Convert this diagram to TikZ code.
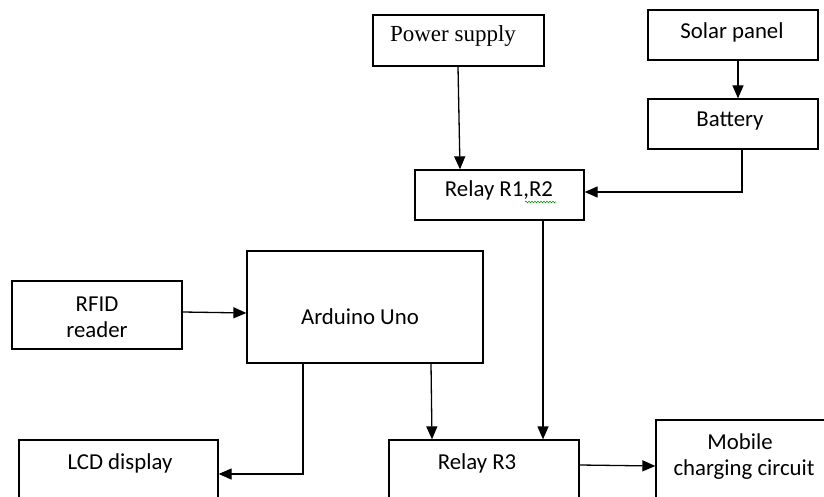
\documentclass[tikz,border=0pt]{standalone}
\usepackage{fontspec}
\setmainfont{Carlito}
\newfontfamily\serifface{Liberation Serif}
\usetikzlibrary{arrows.meta,decorations.pathmorphing}
\begin{document}
\begin{tikzpicture}[x=1pt,y=-1pt,
  box/.style={draw=black,line width=1.3pt,rectangle,inner sep=0pt},
  lbl/.style={inner sep=0pt,font=\fontsize{22.8}{26}\selectfont,align=center},
  arr/.style={line width=1.3pt,-{Triangle[length=13pt,width=11pt]}}]
\useasboundingbox (0,0) rectangle (824,497);
\clip (0,0) rectangle (824,497);
\fill[white] (0,0) rectangle (824,497);
% boxes
\node[box,minimum width=171pt,minimum height=51pt] (ps) at (458.5,40.5) {};
\node[box,minimum width=170pt,minimum height=50pt] (sp) at (733,35) {};
\node[box,minimum width=170pt,minimum height=50pt] (bat) at (733,124) {};
\node[box,minimum width=169pt,minimum height=50pt] (r12) at (499.5,195) {};
\node[box,minimum width=236pt,minimum height=112pt] (ard) at (365,307) {};
\node[box,minimum width=170pt,minimum height=68pt] (rfid) at (97,315) {};
\node[box,minimum width=199pt,minimum height=80pt] (lcd) at (118.5,480) {};
\node[box,minimum width=190pt,minimum height=80pt] (r3) at (484,480) {};
\node[box,minimum width=178pt,minimum height=100pt] (mob) at (745,470) {};
% texts
\node[lbl,font=\serifface\fontsize{23}{26}\selectfont] (tps) at (453,36) {Power supply};
\node[lbl] (tsp) at (732,32) {Solar panel};
\node[lbl] (tbat) at (730,121) {Battery};
\node[lbl] (tr12) at (499,190) {Relay R1,R2};
\node[lbl] (trfid) at (97,317) {RFID\\reader};
\node[lbl] (tard) at (360,317) {Arduino Uno};
\node[lbl] (tlcd) at (120,463) {LCD display};
\node[lbl] (tr3) at (477,463) {Relay R3};
\node[lbl] (tmob) at (740,457) {Mobile\\\hspace*{8pt}charging circuit};
% spell-check squiggle
\coordinate (sq1) at (525,202);
\coordinate (sq2) at (556,202);
\draw[green!60!black,line width=0.6pt,decorate,decoration={snake,amplitude=0.8pt,segment length=3pt}] (sq1) -- (sq2);
% connectors
\draw[arr] (ps.south -| 458,0) -- (r12.north -| 460,0);
\draw[arr] (sp.south -| 738,0) -- (bat.north -| 738,0);
\draw[arr] (bat.south -| 742,0) |- ([yshift=3pt]r12.east);
\draw[arr] (r12.south -| 543,0) -- (r3.north -| 543,0);
\draw[arr] (rfid.east |- 0,312) -- (ard.west |- 0,313);
\draw[arr] (ard.south -| 303,0) |- (lcd.east |- 0,474);
\draw[arr] (ard.south -| 431,0) -- (r3.north -| 432,0);
\draw[arr] (r3.east |- 0,465) -- (mob.west |- 0,466);
\end{tikzpicture}
\end{document}
